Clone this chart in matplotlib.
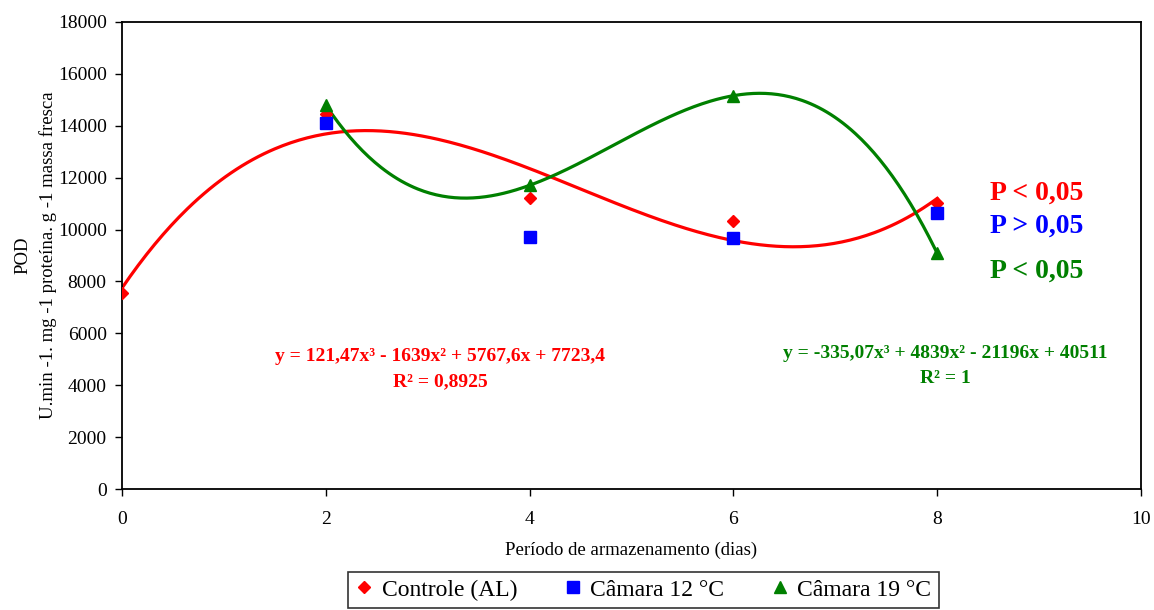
import numpy as np
import matplotlib.pyplot as plt
from matplotlib.lines import Line2D

plt.rcParams['font.family'] = ['Liberation Serif', 'DejaVu Serif']

# DATA
dias_ctrl = [0, 2, 4, 6, 8]
pod_ctrl = [7555, 14450, 11205, 10340, 11010]

dias_c12 = [2, 4, 6, 8]
pod_c12 = [14095, 9710, 9685, 10650]

dias_c19 = [2, 4, 6, 8]
pod_c19 = [14795, 11705, 15160, 9085]

eq_ctrl = 'y = 121,47x³ - 1639x² + 5767,6x + 7723,4\nR² = 0,8925'
eq_c19 = 'y = -335,07x³ + 4839x² - 21196x + 40511\nR² = 1'

RED = '#ff0000'
BLUE = '#0000ff'
GREEN = '#008000'

fig = plt.figure(figsize=(11.54, 6.10), dpi=100)
ax = fig.add_axes([122 / 1154, 1 - 489 / 610, (1141 - 122) / 1154, (489 - 22) / 610])

# trendlines (3rd order polynomial, like the Excel ones)
c_ctrl = np.polyfit(dias_ctrl, pod_ctrl, 3)
xs = np.linspace(min(dias_ctrl), max(dias_ctrl), 300)
ax.plot(xs, np.polyval(c_ctrl, xs), color=RED, lw=2.3, zorder=2)

c_c19 = np.polyfit(dias_c19, pod_c19, 3)
xs = np.linspace(min(dias_c19), max(dias_c19), 300)
ax.plot(xs, np.polyval(c_c19, xs), color=GREEN, lw=2.3, zorder=2)

# points
ax.plot(dias_ctrl, pod_ctrl, ls='none', marker='D', ms=6.5, color=RED, zorder=3)
ax.plot(dias_c12, pod_c12, ls='none', marker='s', ms=8, color=BLUE, zorder=3)
ax.plot(dias_c19, pod_c19, ls='none', marker='^', ms=9, color=GREEN, zorder=4)

ax.set_xlim(0, 10)
ax.set_ylim(0, 18000)
ax.set_xticks(np.arange(0, 11, 2))
ax.set_yticks(np.arange(0, 18001, 2000))
ax.tick_params(axis='both', direction='out', length=5, width=1, labelsize=14)
ax.tick_params(axis='x', pad=11)
ax.tick_params(axis='y', pad=6)
for s in ax.spines.values():
    s.set_linewidth(1.3)

ax.set_xlabel('Período de armazenamento (dias)', fontsize=13.5, labelpad=10)
ax.set_ylabel('POD\nU.min -1. mg -1 proteína. g -1 massa fresca', fontsize=13.5,
              linespacing=1.55)
ax.yaxis.set_label_coords(-0.064, 0.5)

# equations
ax.text(3.12, 4625, eq_ctrl, color=RED, fontsize=14, fontweight='bold',
        ha='center', va='center', linespacing=1.62)
ax.text(8.08, 4740, eq_c19, color=GREEN, fontsize=14, fontweight='bold',
        ha='center', va='center', linespacing=1.62)

# significance
ax.text(8.98, 11410, 'P < 0,05', color=RED, fontsize=20, fontweight='bold', ha='center', va='center')
ax.text(8.98, 10140, 'P > 0,05', color=BLUE, fontsize=20, fontweight='bold', ha='center', va='center')
ax.text(8.98, 8400, 'P < 0,05', color=GREEN, fontsize=20, fontweight='bold', ha='center', va='center')

handles = [
    Line2D([], [], ls='none', marker='D', ms=6.5, color=RED),
    Line2D([], [], ls='none', marker='s', ms=8, color=BLUE),
    Line2D([], [], ls='none', marker='^', ms=9, color=GREEN),
]
labels = ['Controle (AL)', 'Câmara 12 °C', 'Câmara 19 °C']
leg = fig.legend(handles, labels, loc='upper center', bbox_to_anchor=(643.5 / 1154, 1 - 572 / 610),
                 ncol=3, fontsize=17, frameon=True, fancybox=False, edgecolor='black',
                 handlelength=0.7, handletextpad=0.4, columnspacing=2.0, borderpad=0.3,
                 borderaxespad=0)
leg.get_frame().set_linewidth(1.2)

fig.savefig('out.png', dpi=100, facecolor='white')
